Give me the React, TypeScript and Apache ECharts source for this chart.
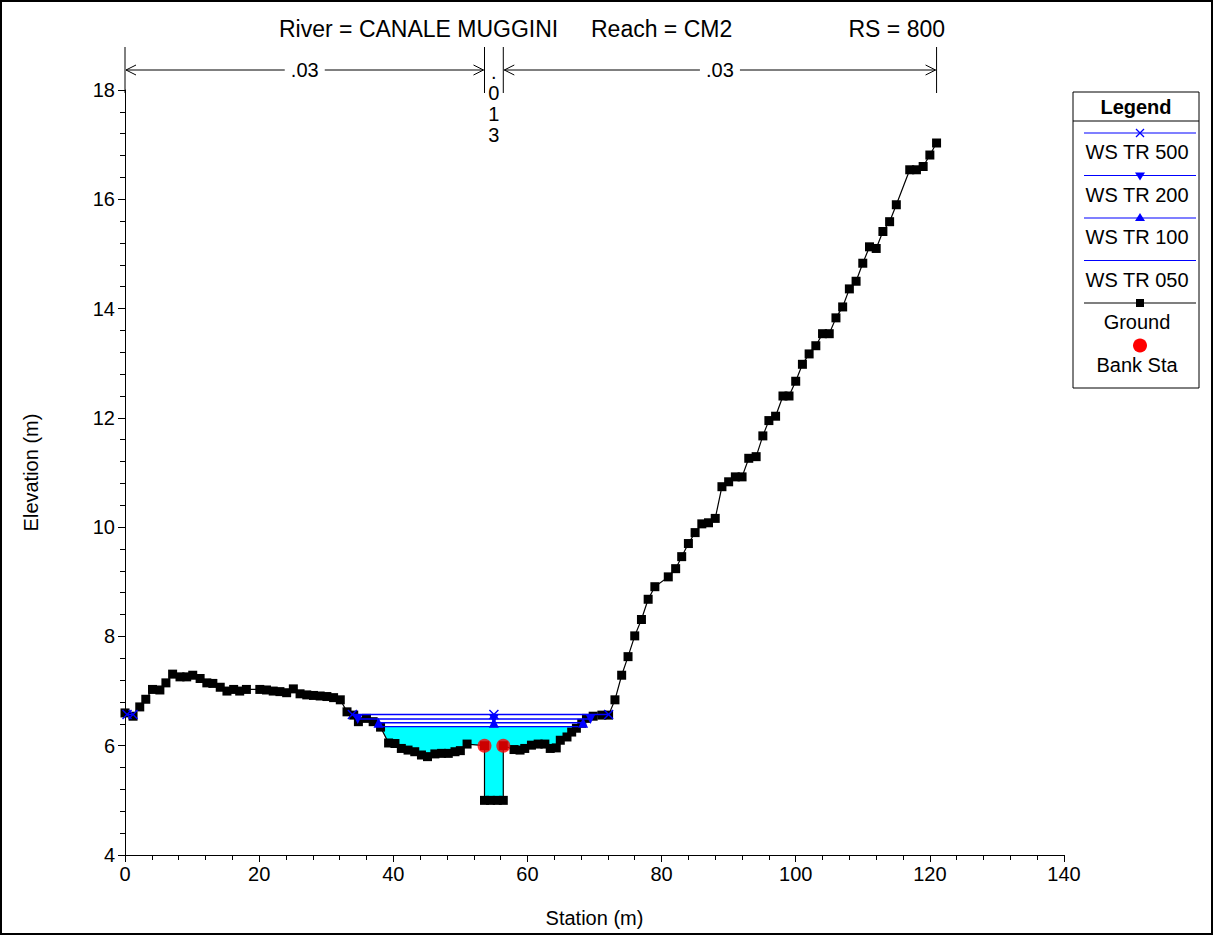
import React, { useEffect, useRef } from "react";
import * as echarts from "echarts";

// ---------- DATA ----------
const groundStation = [
  0, 1.2, 2.2, 3.1, 4.1, 5.2, 6.1, 7.1, 8.2, 9.2, 10.1, 11.2, 12.2, 13.1, 14.2, 15.2, 16.2, 17.1, 18.1,
  20.1, 21.1, 22.1, 23.1, 24.1, 25.1, 26.1, 27.1, 28.1, 29.1, 30.1, 31.1, 32.1, 33.1, 34.1, 34.8, 36.0,
  37.0, 38.1, 39.3, 40.25, 41.2, 42.2, 43.2, 44.2, 45.1, 46.2, 47.2, 48.2, 49.2, 50.0, 51.0, 53.6, 53.6,
  54.5, 55.5, 56.4, 56.4, 58.0, 58.9, 59.6, 60.6, 61.6, 62.6, 63.4, 64.3, 64.9, 65.9, 66.6, 67.3, 68.1,
  68.8, 69.8, 71.1, 72.1, 73.05, 74.05, 75.0, 76.0, 77.0, 78.0, 79.0, 81.0, 82.1, 83.0, 84.0, 85.0, 86.0,
  87.0, 88.0, 89.0, 90.0, 91.0, 92.0, 93.0, 94.1, 95.1, 96.0, 97.0, 98.1, 99.0, 100.0, 101.0, 102.0,
  103.0, 104.0, 105.0, 106.0, 107.0, 108.0, 109.0, 110.0, 111.0, 112.0, 113.0, 114.0, 115.0, 117.0,
  118.0, 119.0, 120.0, 121.0,
];
const groundElev = [
  6.6, 6.54, 6.71, 6.85, 7.03, 7.02, 7.15, 7.31, 7.26, 7.26, 7.29, 7.23, 7.15, 7.14, 7.07, 7.0, 7.03, 7.0, 7.03,
  7.03, 7.02, 7.0, 6.99, 6.97, 7.04, 6.95, 6.93, 6.92, 6.91, 6.9, 6.88, 6.84, 6.62, 6.56, 6.44, 6.5,
  6.44, 6.34, 6.05, 6.04, 5.95, 5.92, 5.89, 5.83, 5.8, 5.85, 5.86, 5.86, 5.89, 5.91, 6.03, 6.0, 5.0,
  5.0, 5.0, 5.0, 6.0, 5.93, 5.92, 5.95, 6.01, 6.03, 6.03, 5.95, 5.96, 6.1, 6.16, 6.25, 6.32, 6.41,
  6.5, 6.54, 6.56, 6.56, 6.84, 7.29, 7.63, 8.01, 8.31, 8.68, 8.91, 9.09, 9.24, 9.46, 9.7, 9.9, 10.06,
  10.08, 10.16, 10.74, 10.83, 10.92, 10.92, 11.26, 11.29, 11.67, 11.95, 12.03, 12.4, 12.4, 12.67, 12.98, 13.17,
  13.32, 13.54, 13.54, 13.83, 14.03, 14.36, 14.5, 14.83, 15.13, 15.1, 15.41, 15.59, 15.9, 16.54,
  16.54, 16.6, 16.81, 17.03,
];
const bankStation = [53.6, 56.4];
const bankElev = [6.0, 6.0];

const wsNames = ["WS TR 500", "WS TR 200", "WS TR 100", "WS TR 050"];
const wsElev = [6.57, 6.49, 6.42, 6.35];
const wsLeft = [33.9, 34.7, 37.8, 38.2];
const wsMid = [55.0, 55.0, 55.0, 55.0];
const wsRight = [72.1, 69.4, 68.3, 67.6];
const ws500LeftPocket = [0.3, 1.2];

const nBreaks = [0, 53.6, 56.4, 121];
const nValues = [".03", ".013", ".03"];

const xTicks = { min: 0, max: 140, step: 20 };
const yTicks = { min: 4, max: 18, step: 2 };

const title = ["River = CANALE MUGGINI", "Reach = CM2", "RS = 800"];

// ---------- STYLE ----------
const FONT = "Liberation Sans, Arial, sans-serif";
const BLUE = "#0000ff";
const CROSS = "path://M0,1L1,0L5,4L9,0L10,1L6,5L10,9L9,10L5,6L1,10L0,9L4,5Z";
const FS = 20;

export default function App() {
  const ref = useRef<HTMLDivElement>(null);

  useEffect(() => {
    const chart = echarts.init(ref.current!, undefined, { renderer: "svg" });

    const ground = groundStation.map((s, i) => [s, groundElev[i]]);
    const lo = wsLeft[3];
    const hi = wsRight[3];
    const fillPoly: number[][] = [[lo, wsElev[3]], [hi, wsElev[3]]];
    for (let i = ground.length - 1; i >= 0; i--) {
      if (ground[i][0] > lo && ground[i][0] < hi) fillPoly.push(ground[i]);
    }

    const wsSymbols = [CROSS, "triangle", "triangle", "none"];
    const wsRot = [0, 180, 0, 0];
    const wsSize = [10, 10, 10, 0];

    const wsSeries: any[] = wsNames.map((n, i) => ({
      name: n,
      type: "line",
      data: [[wsLeft[i], wsElev[i]], [wsMid[i], wsElev[i]], [wsRight[i], wsElev[i]]],
      symbol: wsSymbols[i],
      symbolRotate: wsRot[i],
      symbolSize: wsSize[i],
      showSymbol: i < 3,
      lineStyle: { color: BLUE, width: 1.4 },
      itemStyle: { color: BLUE },
      z: 4,
      silent: true,
    }));
    wsSeries.push({
      name: wsNames[0] + " ",
      type: "line",
      data: ws500LeftPocket.map((s) => [s, wsElev[0]]),
      symbol: CROSS,
      symbolSize: 10,
      lineStyle: { color: BLUE, width: 1.4 },
      itemStyle: { color: BLUE },
      z: 4,
      silent: true,
    });

    const axisCommon = {
      axisLine: { show: true, lineStyle: { color: "#000", width: 1 } },
      axisTick: { show: true, inside: false, length: 7, lineStyle: { color: "#000" } },
      minorTick: { show: true, splitNumber: 5, length: 5, lineStyle: { color: "#000" } },
      splitLine: { show: false },
      minorSplitLine: { show: false },
      axisLabel: { color: "#000", fontSize: FS, fontFamily: FONT },
      nameTextStyle: { color: "#000", fontSize: FS, fontFamily: FONT },
    };

    chart.setOption({
      animation: false,
      backgroundColor: "#fff",
      title: [
        { text: title[0], left: 279, top: 17 },
        { text: title[1], left: 591, top: 17 },
        { text: title[2], right: 268, top: 17 },
      ].map((t) => ({
        ...t,
        textStyle: { color: "#000", fontSize: 23, fontWeight: "normal", fontFamily: FONT },
        padding: 0,
      })),
      grid: { left: 125, right: 149, top: 90, bottom: 80 },
      xAxis: {
        type: "value",
        min: xTicks.min,
        max: xTicks.max,
        interval: xTicks.step,
        name: "Station (m)",
        nameLocation: "middle",
        nameGap: 53,
        ...axisCommon,
        axisLabel: { ...axisCommon.axisLabel, margin: 9 },
      },
      yAxis: {
        type: "value",
        min: yTicks.min,
        max: yTicks.max,
        interval: yTicks.step,
        name: "Elevation (m)",
        nameLocation: "middle",
        nameGap: 84,
        ...axisCommon,
        axisLabel: { ...axisCommon.axisLabel, margin: 10 },
      },
      series: [
        {
          name: "fill",
          type: "custom",
          data: [fillPoly[0]],
          silent: true,
          z: 1,
          renderItem: (params: any, api: any) => ({
            type: "polygon",
            shape: { points: fillPoly.map((p) => api.coord(p)) },
            style: { fill: "#00ffff", stroke: "none" },
          }),
        },
        {
          name: "Ground",
          type: "line",
          data: ground,
          symbol: "rect",
          symbolSize: 9,
          lineStyle: { color: "#000", width: 1.2 },
          itemStyle: { color: "#000" },
          z: 3,
          silent: true,
        },
        ...wsSeries,
        {
          name: "Bank Sta",
          type: "scatter",
          data: bankStation.map((s, i) => [s, bankElev[i]]),
          symbol: "circle",
          symbolSize: 14,
          itemStyle: { color: "#ff0000" },
          z: 6,
          silent: true,
        },
      ],
    });

    // Manning's n annotation + legend + frame
    const px = (s: number) => chart.convertToPixel({ xAxisIndex: 0, yAxisIndex: 0 }, [s, 10])[0];
    const bx = nBreaks.map(px);
    const g: any[] = [];
    const topY = 47;
    const botY = 93;
    const arrowY = 70;
    bx.forEach((x) => {
      g.push({ type: "line", shape: { x1: x, y1: topY, x2: x, y2: botY }, style: { stroke: "#000", lineWidth: 1 } });
    });
    const arrowHead = (x: number, dir: number) => ({
      type: "polyline",
      shape: { points: [[x + dir * 10, arrowY - 5], [x, arrowY], [x + dir * 10, arrowY + 5]] },
      style: { stroke: "#000", lineWidth: 1, fill: "none" },
    });
    [0, 2].forEach((k) => {
      const x1 = bx[k] + 1;
      const x2 = bx[k + 1] - 1;
      const cx = (x1 + x2) / 2;
      const half = 20;
      g.push({ type: "line", shape: { x1, y1: arrowY, x2: cx - half, y2: arrowY }, style: { stroke: "#000", lineWidth: 1 } });
      g.push({ type: "line", shape: { x1: cx + half, y1: arrowY, x2, y2: arrowY }, style: { stroke: "#000", lineWidth: 1 } });
      g.push(arrowHead(x1, 1));
      g.push(arrowHead(x2, -1));
      g.push({
        type: "text",
        x: cx,
        y: arrowY,
        style: { text: nValues[k], fill: "#000", font: `${FS}px ${FONT}`, textAlign: "center", textVerticalAlign: "middle" },
      });
    });
    {
      const cx = (bx[1] + bx[2]) / 2;
      g.push({
        type: "text",
        x: cx,
        y: 61,
        style: {
          text: nValues[1].split("").join("\n"),
          fill: "#000",
          font: `${FS}px ${FONT}`,
          lineHeight: 21,
          textAlign: "center",
          textVerticalAlign: "top",
        },
      });
    }

    // legend
    const L = { x: 1073, y: 92, w: 126, h: 296, sep: 121 };
    g.push({ type: "rect", shape: { x: L.x, y: L.y, width: L.w, height: L.h }, style: { fill: "#fff", stroke: "#000", lineWidth: 1 }, z: 10 });
    g.push({ type: "line", shape: { x1: L.x, y1: L.sep, x2: L.x + L.w, y2: L.sep }, style: { stroke: "#000", lineWidth: 1 }, z: 11 });
    const lcx = L.x + L.w / 2;
    g.push({
      type: "text", x: lcx, y: (L.y + L.sep) / 2, z: 11,
      style: { text: "Legend", fill: "#000", font: `bold ${FS}px ${FONT}`, textAlign: "center", textVerticalAlign: "middle" },
    });
    const legendNames = [...wsNames, "Ground", "Bank Sta"];
    const step = 42.5;
    legendNames.forEach((n, i) => {
      const ly = 133 + i * step;
      const mx = lcx + 4;
      if (i < 5) {
        const c = i < 4 ? BLUE : "#000";
        g.push({ type: "line", z: 11, shape: { x1: L.x + 11, y1: ly, x2: L.x + L.w - 3, y2: ly }, style: { stroke: c, lineWidth: 1.2 } });
      }
      if (i === 0) {
        g.push({ type: "line", z: 12, shape: { x1: mx - 4, y1: ly - 4, x2: mx + 4, y2: ly + 4 }, style: { stroke: BLUE, lineWidth: 1.2 } });
        g.push({ type: "line", z: 12, shape: { x1: mx - 4, y1: ly + 4, x2: mx + 4, y2: ly - 4 }, style: { stroke: BLUE, lineWidth: 1.2 } });
      } else if (i === 1) {
        g.push({ type: "polygon", z: 12, shape: { points: [[mx - 5, ly - 3], [mx + 5, ly - 3], [mx, ly + 5]] }, style: { fill: BLUE } });
      } else if (i === 2) {
        g.push({ type: "polygon", z: 12, shape: { points: [[mx - 5, ly + 3], [mx + 5, ly + 3], [mx, ly - 5]] }, style: { fill: BLUE } });
      } else if (i === 4) {
        g.push({ type: "rect", z: 12, shape: { x: mx - 4, y: ly - 4, width: 8, height: 8 }, style: { fill: "#000" } });
      } else if (i === 5) {
        g.push({ type: "circle", z: 12, shape: { cx: mx, cy: ly, r: 7 }, style: { fill: "#ff0000" } });
      }
      g.push({
        type: "text", x: lcx + 1, y: ly + 19, z: 11,
        style: { text: n, fill: "#000", font: `${FS}px ${FONT}`, textAlign: "center", textVerticalAlign: "middle" },
      });
    });

    // frame
    g.push({ type: "rect", shape: { x: 1, y: 1, width: 1211, height: 933 }, style: { fill: "none", stroke: "#000", lineWidth: 2 }, z: 20 });

    chart.setOption({ graphic: g });

    return () => chart.dispose();
  }, []);

  return <div ref={ref} style={{ position: "fixed", left: 0, top: 0, width: 1213, height: 935 }} />;
}
